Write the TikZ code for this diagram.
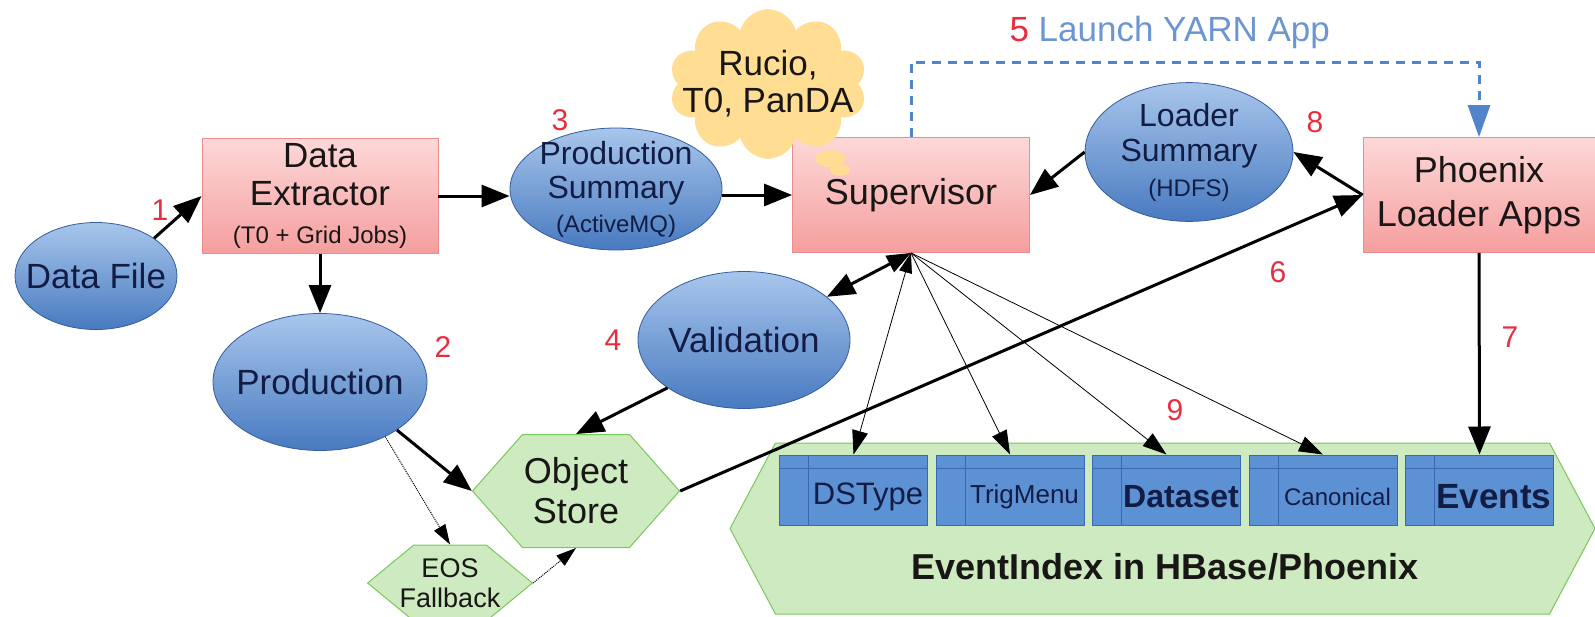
\documentclass[tikz,border=0pt]{standalone}
\usepackage{fontspec}
\setmainfont{Liberation Sans}
\usetikzlibrary{arrows.meta,shapes.geometric,shapes.symbols,shapes.callouts}

\definecolor{boxtop}{RGB}{253,216,216}
\definecolor{boxbot}{RGB}{245,158,158}
\definecolor{boxline}{RGB}{236,140,140}
\definecolor{elltop}{RGB}{168,198,236}
\definecolor{ellbot}{RGB}{72,122,192}
\definecolor{ellline}{RGB}{52,92,158}
\definecolor{hexfill}{RGB}{206,234,192}
\definecolor{hexline}{RGB}{122,200,92}
\definecolor{tblfill}{RGB}{92,146,212}
\definecolor{tblline}{RGB}{58,104,176}
\definecolor{cloudfill}{RGB}{255,222,148}
\definecolor{stepred}{RGB}{232,45,65}
\definecolor{yarnblue}{RGB}{82,132,202}
\definecolor{navy}{RGB}{18,28,68}
\definecolor{ink}{RGB}{25,22,22}

\newcommand\bigtxt{\fontsize{35}{38}\selectfont}
\newcommand\smalltxt{\fontsize{24}{28}\selectfont}
\newcommand\numtxt{\fontsize{30}{32}\selectfont}

\begin{document}
\begin{tikzpicture}[x=1pt,y=-1pt,
  redbox/.style={draw=boxline, line width=0.8pt, top color=boxtop, bottom color=boxbot, text=ink, align=center, inner sep=0pt, minimum width=236pt, minimum height=115pt},
  blueell/.style={ellipse, draw=ellline, line width=0.8pt, top color=elltop, bottom color=ellbot, text=navy, align=center, inner sep=0pt},
  greenhex/.style={signal, signal to=west and east, draw=hexline, line width=1pt, fill=hexfill, text=ink, align=center, inner sep=0pt},
  tbl/.style={draw=tblline, fill=tblfill, line width=1pt, minimum width=148pt, minimum height=70pt, inner sep=0pt,
    path picture={\draw[tblline, line width=1pt] ([xshift=29pt]path picture bounding box.north west) -- ([xshift=29pt]path picture bounding box.south west)
      ([yshift=-13pt]path picture bounding box.north west) -- ([yshift=-13pt]path picture bounding box.north east);}},
  tbltext/.style={text=navy, xshift=14.5pt, yshift=-7pt, inner sep=0pt},
  flow/.style={-{Triangle[length=28pt,width=22pt]}, line width=3pt},
  thinflow/.style={-{Triangle[length=24pt,width=16pt]}, line width=0.8pt},
  fallback/.style={-{Triangle[length=20pt,width=13pt]}, densely dotted, line width=1pt},
  yarnline/.style={-{Triangle[length=32pt,width=22pt]}, yarnblue, line width=3pt, dash pattern=on 9pt off 7pt},
  stepnum/.style={text=stepred, font=\numtxt}]
\useasboundingbox (0,0) rectangle (1595,616);

% top row
\node[blueell, minimum width=162pt, minimum height=107pt, inner xsep=-15pt, font=\bigtxt] (datafile) at (96,276) {Data File};
\node[redbox, font=\bigtxt] (extractor) at (320,196) {Data\\Extractor\\{\smalltxt (T0 + Grid Jobs)}};
\node[blueell, minimum width=212pt, minimum height=122pt, inner xsep=-3pt, inner ysep=-6pt, font=\fontsize{32}{34}\selectfont] (prodsum) at (616,189) {Production\\Summary\\{\smalltxt (ActiveMQ)}};
\node[redbox, minimum width=237pt, font=\fontsize{36}{40}\selectfont] (sup) at (911,195) {Supervisor};
\node[blueell, minimum width=208pt, minimum height=137pt, font=\fontsize{32}{35}\selectfont] (loadsum) at (1189,152) {Loader\\Summary\\{\smalltxt (HDFS)}};
\node[redbox, minimum width=232pt, font=\fontsize{36}{44}\selectfont] (phoenix) at (1479,195) {Phoenix\\Loader Apps};
\node[cloud callout, cloud puffs=10, aspect=1.6, fill=cloudfill, text=ink, align=center, inner xsep=-22pt, inner ysep=-14pt,
  callout absolute pointer={(840,170)}, font=\fontsize{35}{37}\selectfont] (rucio) at (768,84) {Rucio,\\T0, PanDA};
\node[anchor=west, font=\bigtxt] (yarn) at (1006,32) {\textcolor{stepred}{5} \textcolor{yarnblue!85}{Launch YARN App}};

% middle row
\node[blueell, minimum width=214pt, minimum height=137pt, inner xsep=-10pt, font=\bigtxt] (prod) at (320,382) {Production};
\node[blueell, minimum width=212pt, minimum height=137pt, inner xsep=-3pt, font=\bigtxt] (valid) at (744,340) {Validation};

% storage
\node[greenhex, minimum width=207pt, minimum height=113pt, signal pointer angle=97, font=\fontsize{36}{40}\selectfont] (objstore) at (576,491) {Object\\Store};
\node[greenhex, minimum width=164pt, minimum height=76pt, inner xsep=-14pt, signal pointer angle=79, font=\fontsize{27}{30}\selectfont] (eos) at (450,583) {EOS\\Fallback};
\node[greenhex, minimum width=865pt, minimum height=171pt, signal pointer angle=124] (eventindex) at (1162.5,528.5) {};
\node[text=ink, font=\bfseries\fontsize{36}{40}\selectfont] (eititle) at (1165,567) {EventIndex in HBase/Phoenix};

\foreach \nm/\txt/\fnt/\i in {dstype/DSType/\fontsize{31}{33}\selectfont/0,
    trigmenu/TrigMenu/\fontsize{26}{28}\selectfont/1,
    dataset/Dataset/\bfseries\fontsize{32}{34}\selectfont/2,
    canonical/Canonical/\fontsize{24}{26}\selectfont/3,
    events/Events/\bfseries\fontsize{35}{37}\selectfont/4}
  \node[tbl, label={[tbltext, font=\fnt]center:\txt}] (\nm) at (853.5+156.5*\i,490) {};

\foreach \n/\x/\y in {1/160/210, 2/443/347, 3/560/120, 4/613/340, 6/1278/272, 7/1510/337, 8/1315/122, 9/1175/410}
  \node[stepnum] (num\n) at (\x,\y) {\n};

% connectors
\draw[flow] (datafile.33) -- (extractor.west);
\draw[flow] (extractor.south) -- (prod.north);
\draw[flow] (extractor.east) -- (extractor.east -| prodsum.west);
\draw[flow] (prodsum.east |- sup.west) -- (sup.west);
\draw[flow] (loadsum.west) -- (sup.east);
\draw[flow] (phoenix.west) -- (loadsum.east);
\draw[flow] (objstore.east) -- (phoenix.west);
\draw[flow] (phoenix.south) -- (events.north);
\draw[flow] (prod.328) -- (objstore.west);
\draw[flow] (valid.212) -- (objstore.north);
\draw[flow, {Triangle[length=24pt,width=18pt]}-{Triangle[length=28pt,width=22pt]}] (sup.south) -- (valid);
\draw[thinflow, {Triangle[length=20pt,width=13pt]}-{Triangle[length=24pt,width=16pt]}] (sup.south) -- (dstype.north);
\foreach \t in {trigmenu,dataset,canonical}
  \draw[thinflow] (sup.south) -- (\t.north);
\draw[fallback] (prod.320) -- (eos.north);
\draw[fallback] (eos.east) -- (objstore.south);
\draw[yarnline] (sup.north) -- ++(0,-75) -| (phoenix.north);
\end{tikzpicture}
\end{document}
